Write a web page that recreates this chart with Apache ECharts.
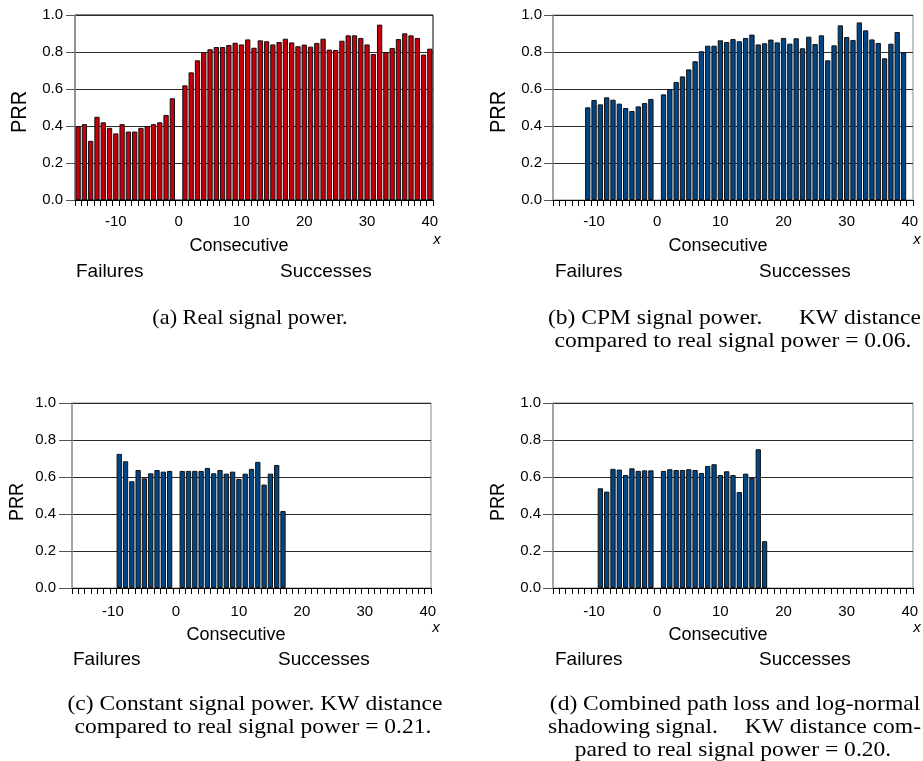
<!DOCTYPE html>
<html>
<head>
<meta charset="utf-8">
<script src="https://cdn.jsdelivr.net/npm/echarts@6/dist/echarts.min.js"></script>
<style>
  html, body { margin: 0; padding: 0; background: #fff; }
  #chart { width: 923px; height: 761px; }
</style>
</head>
<body>
<div id="chart"></div>
<script>
// Run-length position: negative = consecutive failures, positive = consecutive successes
const categories = [-16, -15, -14, -13, -12, -11, -10, -9, -8, -7, -6, -5, -4, -3, -2, -1, 0,
  1, 2, 3, 4, 5, 6, 7, 8, 9, 10, 11, 12, 13, 14, 15, 16, 17, 18, 19, 20,
  21, 22, 23, 24, 25, 26, 27, 28, 29, 30, 31, 32, 33, 34, 35, 36, 37, 38, 39, 40];

const yTicks = [0.0, 0.2, 0.4, 0.6, 0.8, 1.0];

// (a) Real signal power
const prrReal = [0.40, 0.41, 0.32, 0.45, 0.42, 0.39, 0.36, 0.41, 0.37, 0.37, 0.39, 0.40, 0.41, 0.42, 0.46, 0.55,
  null,
  0.62, 0.69, 0.755, 0.80, 0.815, 0.827, 0.827, 0.838, 0.85, 0.841,
  0.868, 0.823, 0.863, 0.858, 0.841, 0.854, 0.872, 0.852, 0.831, 0.84,
  0.829, 0.849, 0.872, 0.813, 0.811, 0.861, 0.89, 0.89, 0.876, 0.841,
  0.789, 0.948, 0.80, 0.822, 0.87, 0.901, 0.89, 0.876, 0.786, 0.818];

// (b) CPM signal power
const prrCpm = [null, null, null, null, null,
  0.501, 0.541, 0.517, 0.555, 0.542, 0.521, 0.497, 0.481, 0.506, 0.524, 0.546,
  null,
  0.571, 0.60, 0.638, 0.668, 0.706, 0.75, 0.804, 0.834, 0.834, 0.863,
  0.854, 0.87, 0.858, 0.876, 0.894, 0.841, 0.847, 0.867, 0.852, 0.876,
  0.845, 0.874, 0.82, 0.883, 0.843, 0.89, 0.755, 0.836, 0.944, 0.881,
  0.865, 0.96, 0.917, 0.868, 0.849, 0.766, 0.845, 0.908, 0.798, null];

// (c) Constant signal power
const prrConst = [null, null, null, null, null, null, null,
  0.725, 0.685, 0.577, 0.638, 0.593, 0.62, 0.638, 0.629, 0.633,
  null,
  0.633, 0.633, 0.633, 0.633, 0.649, 0.62, 0.638, 0.618, 0.629, 0.59,
  0.618, 0.644, 0.682, 0.559, 0.618, 0.665, 0.416,
  null, null, null, null, null, null, null, null, null, null, null, null,
  null, null, null, null, null, null, null, null, null, null, null];

// (d) Path loss + log-normal shadowing
const prrShadow = [null, null, null, null, null, null, null,
  0.539, 0.521, 0.644, 0.64, 0.611, 0.647, 0.633, 0.636, 0.636,
  null,
  0.633, 0.642, 0.638, 0.638, 0.642, 0.638, 0.622, 0.66, 0.669, 0.611,
  0.631, 0.611, 0.519, 0.618, 0.595, 0.75, 0.253,
  null, null, null, null, null, null, null, null, null, null, null, null,
  null, null, null, null, null, null, null, null, null, null, null];

const SANS = 'Liberation Sans, Arial, sans-serif';
const SERIF = 'Liberation Serif, Times New Roman, serif';

const panels = [
  { data: prrReal,   color: '#c5000b', grid: { left: 75,  top: 15,  width: 358, height: 185 }, border: '#000', yMargin: 12, yTick: 9,  xMargin: 14 },
  { data: prrCpm,    color: '#004586', grid: { left: 553, top: 15,  width: 360, height: 185 }, border: '#888', yMargin: 11, yTick: 9,  xMargin: 14 },
  { data: prrConst,  color: '#004586', grid: { left: 72,  top: 403, width: 359, height: 185 }, border: '#888', yMargin: 16, yTick: 13, xMargin: 16 },
  { data: prrShadow, color: '#004586', grid: { left: 553, top: 403, width: 360, height: 185 }, border: '#888', yMargin: 12, yTick: 10, xMargin: 16 }
];

const grids = [], xAxes = [], yAxes = [], series = [];
panels.forEach((p, i) => {
  grids.push(Object.assign({ show: true, borderColor: p.border, borderWidth: 1, backgroundColor: 'transparent' }, p.grid));
  xAxes.push({
    type: 'category', gridIndex: i, data: categories.map(String),
    axisLine: { show: true, lineStyle: { color: '#000', width: 1 } },
    axisTick: { show: true, interval: 0, length: 6, lineStyle: { color: '#000', width: 1 } },
    axisLabel: {
      interval: (idx, v) => Number(v) % 10 === 0,
      color: '#000', fontFamily: SANS, fontSize: 15, margin: p.xMargin
    },
    splitLine: { show: false }
  });
  yAxes.push({
    type: 'value', gridIndex: i, min: yTicks[0], max: yTicks[yTicks.length - 1], interval: 0.2,
    axisLine: { show: true, lineStyle: { color: '#999', width: 1.5 } },
    axisTick: { show: true, length: p.yTick, lineStyle: { color: '#555', width: 1 } },
    axisLabel: { formatter: v => v.toFixed(1), color: '#000', fontFamily: SANS, fontSize: 15, margin: p.yMargin },
    splitLine: { show: true, lineStyle: { color: '#2a2a2a', width: 1 } }
  });
  series.push({
    type: 'bar', xAxisIndex: i, yAxisIndex: i, data: p.data,
    barCategoryGap: '16%',
    itemStyle: { color: p.color, borderColor: '#111', borderWidth: 1 },
    silent: true, animation: false
  });
});

// free-standing text labels
function txt(x, y, s, o) {
  o = o || {};
  return {
    type: 'text', x: x, y: y, rotation: o.rot || 0, scaleX: o.sx || 1, scaleY: o.sy || 1, silent: true,
    style: {
      text: s, x: 0, y: 0, fill: '#000',
      font: (o.italic ? 'italic ' : '') + (o.size || 18) + 'px ' + (o.family || SANS),
      textAlign: o.align || 'center', align: o.align || 'center',
      textVerticalAlign: 'middle', verticalAlign: 'middle'
    }
  };
}

// caption text in a serif face, widened slightly
function cap(x, y, s, align, sx) {
  return txt(x, y, s, { family: SERIF, size: 21, align: align || 'center', sx: sx || 1.12 });
}

const graphics = [
  // PRR axis titles
  txt(20, 112, 'PRR', { rot: Math.PI / 2, size: 20, sy: 1.1 }),
  txt(499, 112, 'PRR', { rot: Math.PI / 2, size: 20, sy: 1.1 }),
  txt(18, 502, 'PRR', { rot: Math.PI / 2, size: 18, sy: 1.1 }),
  txt(499, 502, 'PRR', { rot: Math.PI / 2, size: 18, sy: 1.1 }),
  // x axis descriptions
  txt(239, 246, 'Consecutive'), txt(718, 246, 'Consecutive'),
  txt(236, 635, 'Consecutive'), txt(718, 635, 'Consecutive'),
  txt(437, 240, 'x', { italic: true, size: 15 }), txt(917, 240, 'x', { italic: true, size: 15 }),
  txt(436, 628, 'x', { italic: true, size: 15 }), txt(917, 628, 'x', { italic: true, size: 15 }),
  txt(76, 272, 'Failures', { align: 'left', size: 19 }), txt(280, 272, 'Successes', { align: 'left', size: 19 }),
  txt(555, 272, 'Failures', { align: 'left', size: 19 }), txt(759, 272, 'Successes', { align: 'left', size: 19 }),
  txt(73, 660, 'Failures', { align: 'left', size: 19 }), txt(278, 660, 'Successes', { align: 'left', size: 19 }),
  txt(555, 660, 'Failures', { align: 'left', size: 19 }), txt(759, 660, 'Successes', { align: 'left', size: 19 }),
  // captions
  cap(250, 318, '(a) Real signal power.', 'center', 1.06),
  cap(548, 318, '(b) CPM signal power.', 'left'),
  cap(921, 318, 'KW distance', 'right'),
  cap(733, 341, 'compared to real signal power = 0.06.'),
  cap(255, 704, '(c) Constant signal power. KW distance'),
  cap(253, 727, 'compared to real signal power = 0.21.'),
  cap(735, 704, '(d) Combined path loss and log-normal'),
  cap(548, 727, 'shadowing signal.', 'left'),
  cap(921, 727, 'KW distance com-', 'right'),
  cap(733, 750, 'pared to real signal power = 0.20.')
];

const chart = echarts.init(document.getElementById('chart'), null, { renderer: 'canvas' });
chart.setOption({
  backgroundColor: '#fff',
  animation: false,
  grid: grids, xAxis: xAxes, yAxis: yAxes, series: series,
  graphic: { elements: graphics }
});
</script>
</body>
</html>
